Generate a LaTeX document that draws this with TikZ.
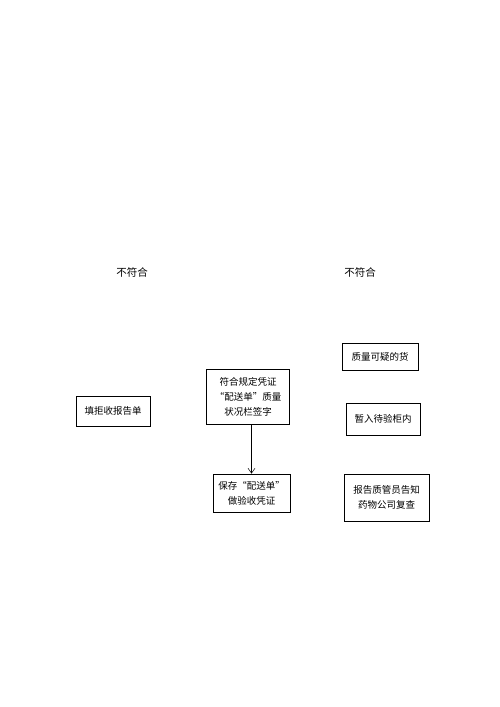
\documentclass[tikz,border=0pt]{standalone}
\usepackage{fontspec}
\setmainfont{Noto Sans CJK SC}
\usepackage{tikz}
\usetikzlibrary{arrows.meta}

\begin{document}
\begin{tikzpicture}[x=1pt,y=-1pt,
	box/.style={draw, line width=0.7pt, inner sep=0pt, align=center, font=\fontsize{9.5}{15}\selectfont},
	note/.style={inner sep=0pt, font=\fontsize{10.5}{12}\selectfont}]
	\useasboundingbox (0,0) rectangle (500,707);
	\node [note] (noleft) at (132,272) {不符合};
	\node [note] (noright) at (360,272) {不符合};
	\node [box, minimum width=74pt, minimum height=30pt] (reject) at (113,411) {填拒收报告单};
	\node [box, minimum width=83pt, minimum height=55pt] (ok) at (248,396.5) {符合规定凭证\\“配送单”质量\\状况栏签字};
	\node [box, minimum width=76pt, minimum height=27pt] (doubt) at (380,356.5) {质量可疑的货};
	\node [box, minimum width=74pt, minimum height=32pt] (wait) at (383,419) {暂入待验柜内};
	\node [box, minimum width=77pt, minimum height=38pt] (keep) at (251.5,493) {保存“配送单”\\做验收凭证};
	\node [box, minimum width=85pt, minimum height=47pt] (report) at (386.5,497.5) {报告质管员告知\\药物公司复查};
	\draw [-{Straight Barb[length=5pt,width=7pt]}, line width=0.5pt] (keep.north |- ok.south) -- (keep.north);
\end{tikzpicture}
\end{document}
